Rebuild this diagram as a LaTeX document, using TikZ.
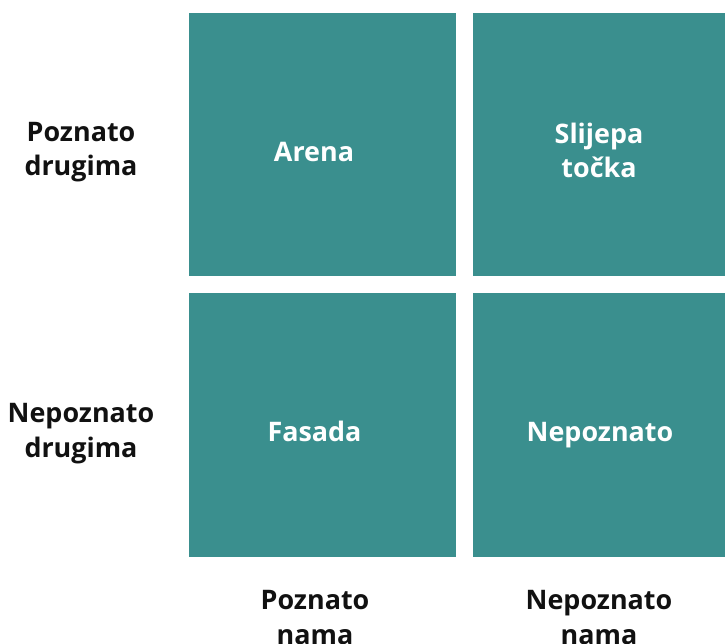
\documentclass[tikz,border=0pt]{standalone}
\usepackage{fontspec}
\setmainfont{Open Sans}
\usetikzlibrary{positioning}
\definecolor{quadteal}{RGB}{58,143,142}
\definecolor{labelblack}{RGB}{17,17,17}

\begin{document}
\begin{tikzpicture}[x=1bp,y=-1bp,
    every node/.style={font=\bfseries\fontsize{27}{34.5}\selectfont,align=center,inner sep=0pt},
    quad/.style={fill=quadteal,anchor=north west,minimum width=#1},
    quad/.default=267bp,
    quadtext/.style={text=white,anchor=base},
    side/.style={text=labelblack,anchor=base}]
        \useasboundingbox (0,0) rectangle (725,644);

        % the four windows
        \node[quad,minimum height=263bp] (arena) at (189,13) {};
        \node[quad=252bp,minimum height=263bp] (blind) at (473,13) {};
        \node[quad,minimum height=264bp] (facade) at (189,293) {};
        \node[quad=252bp,minimum height=264bp] (unknown) at (473,293) {};

        % base = last line
        \node[quadtext] (arenaT) at (314,162) {Arena};
        \node[quadtext] (blindT) at (599,178) {Slijepa\\točka};
        \node[quadtext] (facadeT) at (314.5,441) {Fasada};
        \node[quadtext] (unknownT) at (600,441) {Nepoznato};

        % rows
        \node[side] (knownOthers) at (81,176) {Poznato\\drugima};
        \node[side] (unknownOthers) at (81,457) {Nepoznato\\drugima};

        % columns
        \node[side] (knownSelf) at (315,644) {Poznato\\nama};
        \node[side] (unknownSelf) at (599,644) {Nepoznato\\nama};
    \end{tikzpicture}
\end{document}
